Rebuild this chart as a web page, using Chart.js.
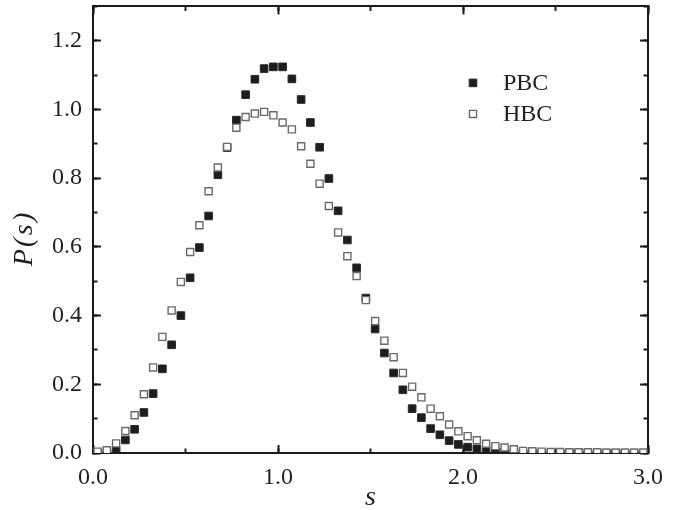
<!DOCTYPE html>
<html>
<head>
<meta charset="utf-8">
<title>P(s)</title>
<script src="https://cdn.jsdelivr.net/npm/chart.js@4/dist/chart.umd.min.js"></script>
<style>
  html, body { margin: 0; padding: 0; background: #fff; }
  #wrap { width: 683px; height: 510px; position: relative; }
</style>
</head>
<body>
<div id="wrap"><canvas id="c" width="683" height="510"></canvas></div>
<script>
// Level-spacing distribution P(s), bins of width 0.05
const binCenters = [
  0.025, 0.075, 0.125, 0.175, 0.225, 0.275, 0.325, 0.375, 0.425, 0.475,
  0.525, 0.575, 0.625, 0.675, 0.725, 0.775, 0.825, 0.875, 0.925, 0.975,
  1.025, 1.075, 1.125, 1.175, 1.225, 1.275, 1.325, 1.375, 1.425, 1.475,
  1.525, 1.575, 1.625, 1.675, 1.725, 1.775, 1.825, 1.875, 1.925, 1.975,
  2.025, 2.075, 2.125, 2.175, 2.225, 2.275, 2.325, 2.375, 2.425, 2.475,
  2.525, 2.575, 2.625, 2.675, 2.725, 2.775, 2.825, 2.875, 2.925, 2.975
];

// periodic boundary conditions
const pbcValues = [
  0.000, 0.000, 0.006, 0.038, 0.069, 0.118, 0.173, 0.245, 0.315, 0.400,
  0.510, 0.598, 0.690, 0.810, 0.889, 0.969, 1.043, 1.088, 1.119, 1.124,
  1.124, 1.089, 1.029, 0.962, 0.890, 0.799, 0.705, 0.620, 0.539, 0.451,
  0.361, 0.291, 0.233, 0.184, 0.129, 0.103, 0.071, 0.053, 0.036, 0.025,
  0.017, 0.012, 0.007, 0.004, 0.002, 0.001, 0.000, 0.000, 0.000, 0.000,
  0.000, 0.000, 0.000, 0.000, 0.000, 0.000, 0.000, 0.000, 0.000, 0.000
];

// hard-wall boundary conditions
const hbcValues = [
  0.004, 0.008, 0.028, 0.064, 0.110, 0.171, 0.249, 0.338, 0.415, 0.498,
  0.585, 0.663, 0.762, 0.831, 0.891, 0.947, 0.978, 0.988, 0.993, 0.983,
  0.962, 0.942, 0.893, 0.842, 0.784, 0.719, 0.642, 0.573, 0.515, 0.445,
  0.384, 0.327, 0.279, 0.233, 0.193, 0.162, 0.129, 0.107, 0.083, 0.063,
  0.049, 0.037, 0.027, 0.020, 0.016, 0.011, 0.006, 0.005, 0.004, 0.003,
  0.003, 0.002, 0.002, 0.002, 0.002, 0.001, 0.001, 0.001, 0.001, 0.001
];

const seriesNames = ['PBC', 'HBC'];
const xTickLabels = ['0.0', '1.0', '2.0', '3.0'];
const yTickLabels = ['0.0', '0.2', '0.4', '0.6', '0.8', '1.0', '1.2'];
const xTitle = 's';
const yTitle = 'P\u200A(\u200As\u200A)\u2002\u2009';

const SERIF = '"Liberation Serif", "Times New Roman", Times, serif';
const INK = '#231f20';
const AXIS = '#1a1a1a';

function toPoints(values) {
  return binCenters.map((s, i) => ({ x: s, y: values[i] }));
}

// small legend box drawn inside the plot area, top right
const insideLegend = {
  id: 'insideLegend',
  afterDatasetsDraw(chart) {
    const ctx = chart.ctx;
    const area = chart.chartArea;
    const markX = area.left + 380;
    const textX = area.left + 410;
    const rows = [area.top + 76.5, area.top + 107.5];
    ctx.save();
    ctx.font = '24px ' + SERIF;
    ctx.textBaseline = 'middle';
    ctx.textAlign = 'left';
    seriesNames.forEach((name, i) => {
      const ds = chart.data.datasets.find(d => d.label === name);
      const y = rows[i];
      ctx.fillStyle = ds.backgroundColor;
      ctx.strokeStyle = ds.borderColor;
      ctx.lineWidth = ds.borderWidth;
      const opts = { pointStyle: 'rect', radius: ds.pointRadius, rotation: 0, borderWidth: ds.borderWidth };
      if (Chart.helpers && Chart.helpers.drawPoint) {
        Chart.helpers.drawPoint(ctx, opts, markX, y);
      } else {
        const h = ds.pointRadius * Math.SQRT1_2;
        ctx.beginPath();
        ctx.rect(markX - h, y - h, 2 * h, 2 * h);
        ctx.fill();
        ctx.stroke();
      }
      ctx.fillStyle = INK;
      ctx.fillText(name, textX, y + 1);
    });
    ctx.restore();
  }
};

const majorTick = 8;
const minorTick = 4.5;

// fixed box sizes so the plot frame sits where intended
function fixBox(size, vertical) {
  return (s) => {
    if (vertical) { s.width = size; } else { s.height = size; }
    s.paddingTop = 0; s.paddingBottom = 0; s.paddingLeft = 0; s.paddingRight = 0;
  };
}

function tickGrid(len) {
  return { drawOnChartArea: false, tickLength: -len, tickWidth: 2, tickColor: AXIS };
}

function build() {
  new Chart(document.getElementById('c'), {
    type: 'scatter',
    data: {
      datasets: [
        {
          label: 'HBC',
          data: toPoints(hbcValues),
          pointStyle: 'rect',
          pointRadius: 5.0,
          pointHoverRadius: 5.0,
          backgroundColor: '#ffffff',
          borderColor: '#6a6a6a',
          borderWidth: 1.4,
          order: 0,
          clip: 0
        },
        {
          label: 'PBC',
          data: toPoints(pbcValues),
          pointStyle: 'rect',
          pointRadius: 5.4,
          pointHoverRadius: 5.4,
          backgroundColor: '#1d1d1d',
          borderColor: '#2b2b2b',
          borderWidth: 1,
          order: 1,
          clip: 0
        }
      ]
    },
    options: {
      responsive: false,
      animation: false,
      events: [],
      layout: { padding: { left: 0, right: 35, top: 6, bottom: 0 } },
      plugins: {
        legend: { display: false },
        tooltip: { enabled: false }
      },
      scales: {
        x: {
          type: 'linear', position: 'bottom', min: 0, max: 3, z: 1,
          ticks: {
            stepSize: 1,
            color: INK,
            font: { family: SERIF, size: 24 },
            padding: 18,
            maxRotation: 0,
            callback: (v) => xTickLabels[Math.round(v)]
          },
          grid: tickGrid(majorTick),
          border: { display: true, color: AXIS, width: 2 },
          title: {
            display: true, text: xTitle, color: INK,
            font: { family: SERIF, size: 28, style: 'italic' },
            padding: { top: 0, bottom: -4 }
          },
          afterFit: fixBox(57, false)
        },
        xMinor: {
          type: 'linear', position: 'bottom', axis: 'x', min: 0, max: 3, weight: -1, z: 1,
          ticks: { stepSize: 0.5, display: false },
          grid: tickGrid(minorTick),
          border: { display: false },
          afterFit: fixBox(0, false)
        },
        xTop: {
          type: 'linear', position: 'top', axis: 'x', min: 0, max: 3, z: 1,
          ticks: { stepSize: 1, display: false },
          grid: tickGrid(majorTick),
          border: { display: true, color: AXIS, width: 2 },
          afterFit: fixBox(0, false)
        },
        xTopMinor: {
          type: 'linear', position: 'top', axis: 'x', min: 0, max: 3, weight: -1, z: 1,
          ticks: { stepSize: 0.5, display: false },
          grid: tickGrid(minorTick),
          border: { display: false },
          afterFit: fixBox(0, false)
        },
        y: {
          type: 'linear', position: 'left', min: 0, max: 1.3, z: 1,
          ticks: {
            stepSize: 0.2,
            includeBounds: false,
            color: INK,
            font: { family: SERIF, size: 24 },
            padding: 19,
            callback: (v) => yTickLabels[Math.round(v / 0.2)]
          },
          grid: tickGrid(majorTick),
          border: { display: true, color: AXIS, width: 2 },
          title: {
            display: true, text: yTitle, color: INK,
            font: { family: SERIF, size: 28, style: 'italic' },
            padding: { top: 8, bottom: 0 }
          },
          afterFit: fixBox(93, true)
        },
        yMinor: {
          type: 'linear', position: 'left', axis: 'y', min: 0, max: 1.3, weight: -1, z: 1,
          ticks: { stepSize: 0.1, includeBounds: false, display: false },
          grid: tickGrid(minorTick),
          border: { display: false },
          afterFit: fixBox(0, true)
        },
        yRight: {
          type: 'linear', position: 'right', axis: 'y', min: 0, max: 1.3, z: 1,
          ticks: { stepSize: 0.2, includeBounds: false, display: false },
          grid: tickGrid(majorTick),
          border: { display: true, color: AXIS, width: 2 },
          afterFit: fixBox(0, true)
        },
        yRightMinor: {
          type: 'linear', position: 'right', axis: 'y', min: 0, max: 1.3, weight: -1, z: 1,
          ticks: { stepSize: 0.1, includeBounds: false, display: false },
          grid: tickGrid(minorTick),
          border: { display: false },
          afterFit: fixBox(0, true)
        }
      }
    },
    plugins: [insideLegend]
  });
}

// make sure the serif face is ready before the canvas text is measured
const fontReady = document.fonts && document.fonts.load
  ? Promise.all([
      document.fonts.load('24px "Liberation Serif"'),
      document.fonts.load('italic 28px "Liberation Serif"')
    ]).catch(() => null)
  : Promise.resolve();
fontReady.then(build, build);
</script>
</body>
</html>
